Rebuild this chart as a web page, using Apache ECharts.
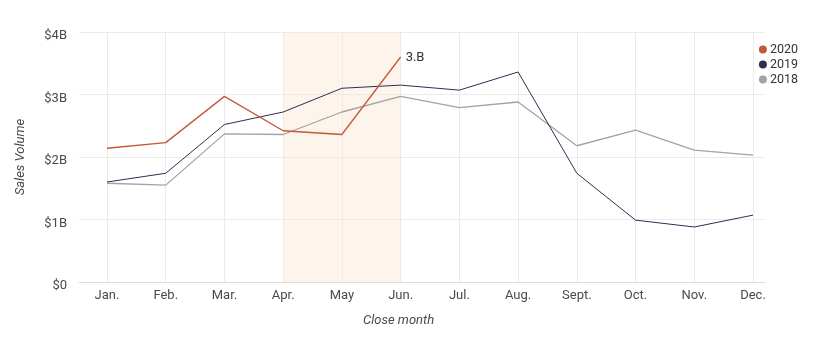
<!DOCTYPE html>
<html>
<head>
<meta charset="utf-8">
<script src="https://cdn.jsdelivr.net/npm/echarts@6/dist/echarts.min.js"></script>
<style>html,body{margin:0;padding:0;background:#fff;}#c{width:825px;height:337px;}</style>
</head>
<body>
<div id="c"></div>
<script>
const months = ['Jan.','Feb.','Mar.','Apr.','May','Jun.','Jul.','Aug.','Sept.','Oct.','Nov.','Dec.'];
const s2020 = [2.14, 2.23, 2.97, 2.42, 2.36, 3.60];
const s2019 = [1.60, 1.74, 2.52, 2.72, 3.10, 3.15, 3.07, 3.36, 1.74, 0.99, 0.88, 1.07];
const s2018 = [1.58, 1.55, 2.37, 2.36, 2.72, 2.97, 2.79, 2.88, 2.18, 2.43, 2.11, 2.03];
const yTicks = ['$0', '$1B', '$2B', '$3B', '$4B'];
const highlight = ['Apr.', 'Jun.'];
const endLabel = '3.B';

const chart = echarts.init(document.getElementById('c'));
const font = 'Roboto';
const yAxisBase = {type: 'value', min: 0, max: 4, interval: 1};
chart.setOption({
  animation: false,
  textStyle: {fontFamily: font},
  grid: [
    {left: 79, right: 60, top: 32, bottom: 55},
    {left: 107, right: 72, top: 32, bottom: 55}
  ],
  xAxis: [
    {gridIndex: 0, type: 'value', min: 0, max: 1, show: true,
     axisLine: {show: true, lineStyle: {color: '#dcdcdc'}}, axisTick: {show: false},
     axisLabel: {show: false}, splitLine: {show: false}},
    {gridIndex: 1, type: 'category', data: months, boundaryGap: false,
     axisLine: {show: false}, axisTick: {show: false},
     axisLabel: {color: '#4a4a4a', fontSize: 13, margin: 7, fontFamily: font},
     splitLine: {show: true, lineStyle: {color: '#ebebeb', width: 1}}}
  ],
  yAxis: [
    Object.assign({gridIndex: 0}, yAxisBase, {
      axisLine: {show: false}, axisTick: {show: false},
      axisLabel: {color: '#4a4a4a', fontSize: 13, margin: 12, fontFamily: font,
        verticalAlign: 'top', lineHeight: 8,
        formatter: v => yTicks[Math.round(v)]},
      splitLine: {show: true, lineStyle: {color: '#ebebeb', width: 1}},
      name: 'Sales Volume', nameLocation: 'middle', nameGap: 52, nameRotate: 90,
      nameTextStyle: {fontStyle: 'italic', color: '#4a4a4a', fontSize: 13, fontFamily: font}
    }),
    Object.assign({gridIndex: 1}, yAxisBase, {show: false})
  ],
  legend: {
    orient: 'vertical', right: 22, top: 38, itemGap: 2,
    icon: 'circle', itemWidth: 8, itemHeight: 8,
    textStyle: {color: '#333', fontSize: 12.5, fontFamily: font, padding: [0, 0, 0, -2]},
    data: ['2020', '2019', '2018']
  },
  graphic: [{
    type: 'text', left: 363, top: 314,
    style: {text: 'Close month', fontStyle: 'italic', fill: '#4a4a4a', fontSize: 13, fontFamily: font}
  }],
  series: [
    {name: '2018', type: 'line', xAxisIndex: 1, yAxisIndex: 1, data: s2018,
     symbol: 'none', color: '#a3a3a3', lineStyle: {width: 1.3}, z: 2},
    {name: '2019', type: 'line', xAxisIndex: 1, yAxisIndex: 1, data: s2019,
     symbol: 'none', color: '#2a2f4f', lineStyle: {width: 1}, z: 3},
    {name: '2020', type: 'line', xAxisIndex: 1, yAxisIndex: 1, data: s2020,
     symbol: 'none', color: '#c4573a', lineStyle: {width: 1.3}, z: 4,
     endLabel: {show: true, formatter: endLabel, color: '#333', fontSize: 13, distance: 3, offset: [2, 1], fontFamily: font},
     markArea: {silent: true, itemStyle: {color: 'rgba(249,228,207,0.4)'},
       data: [[{xAxis: highlight[0]}, {xAxis: highlight[1]}]]}}
  ]
});
</script>
</body>
</html>
